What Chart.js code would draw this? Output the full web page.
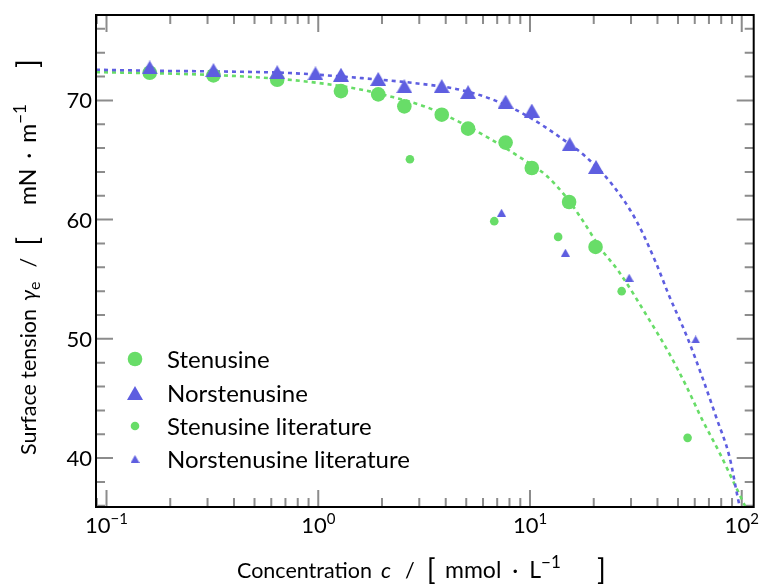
<!DOCTYPE html>
<html><head><meta charset="utf-8">
<script src="https://cdn.jsdelivr.net/npm/chart.js@4.4.1/dist/chart.umd.min.js"></script>
<style>html,body{margin:0;padding:0;background:#fff;}#wrap{width:761px;height:586px;}</style>
</head><body><div id="wrap"><canvas id="c" width="761" height="586"></canvas></div>
<script>
// ---- data ----
const stenusineC = [0.16, 0.32, 0.64, 1.28, 1.92, 2.55, 3.83, 5.1, 7.67, 10.2, 15.3, 20.4];
const stenusineG = [72.32, 72.09, 71.73, 70.78, 70.5, 69.5, 68.8, 67.63, 66.46, 64.33, 61.48, 57.71];
const norC = [0.16, 0.32, 0.64, 0.97, 1.28, 1.92, 2.55, 3.83, 5.1, 7.67, 10.2, 15.4, 20.5];
const norG = [72.76, 72.54, 72.36, 72.26, 72.15, 71.8, 71.19, 71.2, 70.69, 69.89, 69.15, 66.33, 64.42];
const stenLitC = [2.71, 6.78, 13.58, 27.1, 55.5];
const stenLitG = [65.06, 59.87, 58.55, 54.0, 41.7];
const norLitC = [7.34, 14.7, 29.4, 60.6];
const norLitG = [60.58, 57.23, 55.13, 49.95];
const stenFitC = [0.0892, 0.207, 0.357, 0.637, 0.98, 1.52, 2.18, 3.24, 4.65, 6.45, 8.93, 11.9, 14.8, 17.7, 21.3, 26.5, 36.3, 45.2, 54.3, 65.3, 78.4, 94.3, 101, 110];
const stenFitG = [72.37, 72.24, 72.09, 71.82, 71.48, 70.98, 70.34, 69.44, 68.18, 66.79, 65.25, 63.72, 61.9, 59.95, 57.71, 55.55, 51.7, 48.85, 46.16, 43.17, 40.48, 37.5, 36.4, 35.0];
const norFitC = [0.0892, 0.173, 0.357, 0.735, 1.52, 3.01, 4.65, 6.68, 9.6, 13.8, 18.4, 24.6, 31.7, 39.3, 45.2, 55.3, 65.3, 75.7, 87.7, 96, 100];
const norFitG = [72.57, 72.48, 72.42, 72.29, 71.9, 71.4, 70.9, 70.06, 68.74, 66.93, 65.25, 62.88, 59.95, 56.4, 53.7, 50.13, 46.72, 43.45, 40.05, 36.6, 35.2];
const seriesLabels = ['Stenusine', 'Norstenusine', 'Stenusine literature', 'Norstenusine literature'];
const xMajorTicks = [0.1, 1, 10, 100];
const xTickBase = ['10', '10', '10', '10'];
const xTickExp = ['\u22121', '0', '1', '2'];
const yMajorTicks = [40, 50, 60, 70];
const yTickLabels = ['40', '50', '60', '70'];
const yMinorTicks = [36, 38, 42, 44, 46, 48, 52, 54, 56, 58, 62, 64, 66, 68, 72, 74, 76];
const xMinorMult = [2, 3, 4, 5, 6, 7, 8, 9];
const xDecades = [0.01, 0.1, 1, 10, 100];

// ---- styles ----
const GREEN = 'rgb(104,221,104)';
const BLUE = 'rgb(94,94,224)';
const FONT = 'Lato, "Open Sans", sans-serif';

function triImg(w, h, color) {
  const c = document.createElement('canvas');
  c.width = w; c.height = h;
  const g = c.getContext('2d');
  g.fillStyle = color;
  g.beginPath();
  g.moveTo(w / 2, 0);
  g.lineTo(w, h);
  g.lineTo(0, h);
  g.closePath();
  g.fill();
  return c;
}
const bigTri = triImg(16, 14, BLUE);
const smallTri = triImg(9, 8, BLUE);

const pts = (xs, ys) => xs.map((v, i) => ({x: v, y: ys[i]}));

const legendItems = [
  {label: seriesLabels[0], kind: 'circle', r: 7.3, color: GREEN},
  {label: seriesLabels[1], kind: 'img', img: bigTri},
  {label: seriesLabels[2], kind: 'circle', r: 4.3, color: GREEN},
  {label: seriesLabels[3], kind: 'img', img: smallTri}
];

function segW(ctx, s) {
  if (s.gap) return s.gap;
  ctx.font = s.font;
  return ctx.measureText(s.t).width;
}
function drawRich(ctx, segs, cx, cy) {
  let w = 0;
  segs.forEach(s => { w += segW(ctx, s); });
  drawFrom(ctx, segs, cx - w / 2, cy);
}
function drawFrom(ctx, segs, x0, cy) {
  let xx = x0;
  segs.forEach(s => {
    if (!s.gap) {
      ctx.font = s.font;
      ctx.fillText(s.t, xx, cy + (s.dy || 0));
    }
    xx += segW(ctx, s);
  });
}

const MAJ = 17, MIN = 9;
const decor = {
  id: 'decor',
  beforeDatasetsDraw(chart) {
    const {ctx, chartArea: a, scales: {x, y}} = chart;
    ctx.save();
    ctx.strokeStyle = '#8c8c8c';
    ctx.lineWidth = 2;
    ctx.beginPath();
    const vt = (p, len) => { ctx.moveTo(p, a.bottom); ctx.lineTo(p, a.bottom - len); ctx.moveTo(p, a.top); ctx.lineTo(p, a.top + len); };
    const ht = (p, len) => { ctx.moveTo(a.left, p); ctx.lineTo(a.left + len, p); ctx.moveTo(a.right, p); ctx.lineTo(a.right - len, p); };
    xMajorTicks.forEach(v => vt(x.getPixelForValue(v), MAJ));
    xDecades.forEach(d => xMinorMult.forEach(m => {
      const v = d * m;
      if (v > x.min && v < x.max) vt(x.getPixelForValue(v), MIN);
    }));
    yMajorTicks.forEach(v => ht(y.getPixelForValue(v), MAJ));
    yMinorTicks.forEach(v => ht(y.getPixelForValue(v), MIN));
    ctx.stroke();
    ctx.restore();
  },
  afterDatasetsDraw(chart) {
    const {ctx, chartArea: a, scales: {x, y}} = chart;
    ctx.save();
    // frame
    ctx.strokeStyle = '#000';
    ctx.lineWidth = 2;
    ctx.strokeRect(a.left, a.top, a.right - a.left, a.bottom - a.top);
    ctx.fillStyle = '#000';
    // y tick labels
    ctx.font = '22px ' + FONT;
    ctx.textAlign = 'right';
    ctx.textBaseline = 'middle';
    yMajorTicks.forEach((v, i) => ctx.fillText(yTickLabels[i], a.left - 4, y.getPixelForValue(v) + 1));
    // x tick labels
    ctx.textAlign = 'left';
    ctx.textBaseline = 'alphabetic';
    xMajorTicks.forEach((v, i) => {
      drawRich(ctx, [
        {t: xTickBase[i], font: '22px ' + FONT},
        {t: xTickExp[i], font: '15px ' + FONT, dy: -9}
      ], x.getPixelForValue(v), 533);
    });
    // x title
    const f = '21.5px ' + FONT, fi = 'italic 22px ' + FONT, fb = '29px ' + FONT;
    const fc = '23px ' + FONT, fs = '17px ' + FONT;
    drawFrom(ctx, [
      {t: 'Concentration', font: f},
      {gap: 9},
      {t: 'c', font: fi},
      {gap: 14},
      {t: '/', font: f},
      {gap: 12},
      {t: '[', font: fb, dy: 2}
    ], 237, 578);
    drawFrom(ctx, [
      {t: 'mmol', font: fc},
      {gap: 11},
      {t: '\u00B7', font: fc},
      {gap: 11},
      {t: 'L', font: fc},
      {t: '\u22121', font: fs, dy: -10}
    ], 445, 578);
    drawFrom(ctx, [{t: ']', font: fb, dy: 2}], 597, 578);
    // y title (rotated; positions measured along the screen y axis, going up)
    ctx.save();
    ctx.translate(36, 0);
    ctx.rotate(-Math.PI / 2);
    drawFrom(ctx, [
      {t: 'Surface tension', font: f},
      {gap: 8},
      {t: '\u03B3', font: fi},
      {t: 'e', font: '16px ' + FONT, dy: 4},
      {gap: 14},
      {t: '/', font: f},
      {gap: 12},
      {t: '[', font: fb, dy: 2}
    ], -455, 0);
    drawFrom(ctx, [
      {t: 'mN', font: fc},
      {gap: 10},
      {t: '\u00B7', font: fc},
      {gap: 10},
      {t: 'm', font: fc},
      {t: '\u22121', font: fs, dy: -10}
    ], -205, 0);
    drawFrom(ctx, [{t: ']', font: fb, dy: 2}], -68, 0);
    ctx.restore();
    // legend
    const rows = [359, 393, 426, 459];
    ctx.font = '24px ' + FONT;
    ctx.textAlign = 'left';
    ctx.textBaseline = 'middle';
    legendItems.forEach((it, i) => {
      const cy = rows[i], cx = 135;
      if (it.kind === 'circle') {
        ctx.fillStyle = it.color;
        ctx.beginPath(); ctx.arc(cx, cy, it.r, 0, Math.PI * 2); ctx.fill();
      } else {
        ctx.drawImage(it.img, cx - it.img.width / 2, cy - it.img.height / 2);
      }
      ctx.fillStyle = '#000';
      ctx.fillText(it.label, 167, cy + 1);
    });
    ctx.restore();
  }
};

new Chart(document.getElementById('c'), {
  type: 'scatter',
  data: {
    datasets: [
      {label: 'Stenusine fit', data: pts(stenFitC, stenFitG), showLine: true, pointRadius: 0, borderColor: GREEN, borderWidth: 2.6, borderDash: [4, 4], cubicInterpolationMode: 'monotone', order: 10},
      {label: 'Norstenusine fit', data: pts(norFitC, norFitG), showLine: true, pointRadius: 0, borderColor: BLUE, borderWidth: 2.6, borderDash: [4, 4], cubicInterpolationMode: 'monotone', order: 9},
      {label: seriesLabels[0], data: pts(stenusineC, stenusineG), pointRadius: 7.3, pointStyle: 'circle', backgroundColor: GREEN, borderWidth: 0, order: 4},
      {label: seriesLabels[1], data: pts(norC, norG), pointStyle: bigTri, backgroundColor: BLUE, borderWidth: 0, order: 3},
      {label: seriesLabels[2], data: pts(stenLitC, stenLitG), pointRadius: 4.3, pointStyle: 'circle', backgroundColor: GREEN, borderWidth: 0, order: 2},
      {label: seriesLabels[3], data: pts(norLitC, norLitG), pointStyle: smallTri, backgroundColor: BLUE, borderWidth: 0, order: 1}
    ]
  },
  options: {
    responsive: false,
    devicePixelRatio: 1,
    animation: false,
    events: [],
    layout: {padding: {left: 96, top: 15, right: 7, bottom: 79}},
    scales: {
      x: {type: 'logarithmic', min: 0.0892, max: 113.9, display: false},
      y: {type: 'linear', min: 35.9, max: 77.16, display: false}
    },
    plugins: {legend: {display: false}, tooltip: {enabled: false}}
  },
  plugins: [decor]
});
</script>
</body></html>
